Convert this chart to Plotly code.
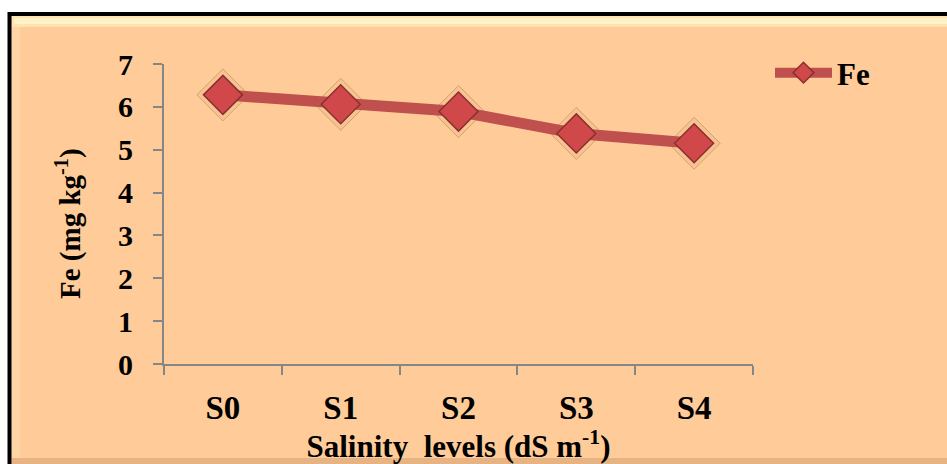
import plotly.graph_objects as go

categories = ["S0", "S1", "S2", "S3", "S4"]
fe_values = [6.28, 6.06, 5.89, 5.38, 5.15]
y_ticks = [0, 1, 2, 3, 4, 5, 6, 7]
series_name = "Fe"

W, H = 947, 464
L, R, T, B = 164, 194, 64, 100
pw, ph = W - L - R, H - T - B

def px(x):
    return (x - L) / pw

def py(y):
    return (H - B - y) / ph

FONT = "Liberation Serif"
RED = "#C0504D"

fig = go.Figure()

# glow ring behind markers
fig.add_trace(go.Scatter(
    x=categories, y=fe_values, mode="markers", showlegend=False, hoverinfo="skip",
    marker=dict(symbol="diamond", size=40, color="rgba(190,140,90,0.12)",
                line=dict(color="rgba(150,100,60,0.4)", width=1)),
))
fig.add_trace(go.Scatter(
    x=categories, y=fe_values, mode="lines+markers", name=series_name,
    line=dict(color=RED, width=11),
    marker=dict(symbol="diamond", size=30, color="#D0484A",
                line=dict(color="#8C2F2E", width=1.5)),
))

shapes = [
    dict(type="rect", xref="paper", yref="paper", layer="below",
         x0=px(9.5), x1=px(960), y0=py(14), y1=py(480),
         fillcolor="#FFCC99", line=dict(color="black", width=4)),
    dict(type="rect", xref="paper", yref="paper", layer="below",
         x0=px(12), x1=px(960), y0=py(16), y1=py(27),
         fillcolor="#FFE3B0", line=dict(width=0)),
    dict(type="rect", xref="paper", yref="paper", layer="below",
         x0=px(14), x1=px(960), y0=py(18), y1=py(24),
         fillcolor="#FFF2C6", line=dict(width=0)),
    dict(type="rect", xref="paper", yref="paper", layer="below",
         x0=px(12), x1=px(20), y0=py(27), y1=py(458),
         fillcolor="#FFD4A6", line=dict(width=0)),
    dict(type="rect", xref="paper", yref="paper", layer="below",
         x0=px(12), x1=px(960), y0=py(458), y1=py(466),
         fillcolor="#E8B383", line=dict(width=0)),
]

annotations = [
    dict(text="Fe (mg kg<sup>-1</sup>)", xref="paper", yref="paper",
         x=px(68), y=py(224), xanchor="center", yanchor="middle",
         textangle=-90, showarrow=False,
         font=dict(family=FONT, size=29, weight="bold", color="black")),
]

fig.update_layout(
    width=W, height=H,
    margin=dict(l=L, r=R, t=T, b=B, autoexpand=False),
    paper_bgcolor="white",
    plot_bgcolor="rgba(0,0,0,0)",
    shapes=shapes,
    annotations=annotations,
    font=dict(family=FONT, color="black"),
    showlegend=True,
    legend=dict(x=px(770), y=py(73), xanchor="left", yanchor="middle",
                bgcolor="rgba(0,0,0,0)", itemwidth=57,
                font=dict(family=FONT, size=31, color="black", weight="bold")),
    xaxis=dict(
        type="category", range=[-0.5, 4.5],
        showline=True, linecolor="#868686", linewidth=2,
        ticks="outside", tickson="boundaries", ticklen=9, tickcolor="#868686", tickwidth=2,
        showgrid=False, zeroline=False,
        tickfont=dict(family=FONT, size=33, weight="bold"),
        ticklabelstandoff=13,
        title=dict(text="Salinity\u00a0 levels (dS m<sup>-1</sup>)",
                   font=dict(family=FONT, size=31, weight="bold"), standoff=19),
    ),
    yaxis=dict(
        range=[0, 7], tickvals=y_ticks,
        showline=True, linecolor="#868686", linewidth=2,
        ticks="outside", ticklen=9, tickcolor="#868686", tickwidth=2,
        showgrid=False, zeroline=False,
        tickfont=dict(family=FONT, size=30, weight="bold"),
        ticklabelstandoff=14,
    ),
)

fig.write_html("out.html")
